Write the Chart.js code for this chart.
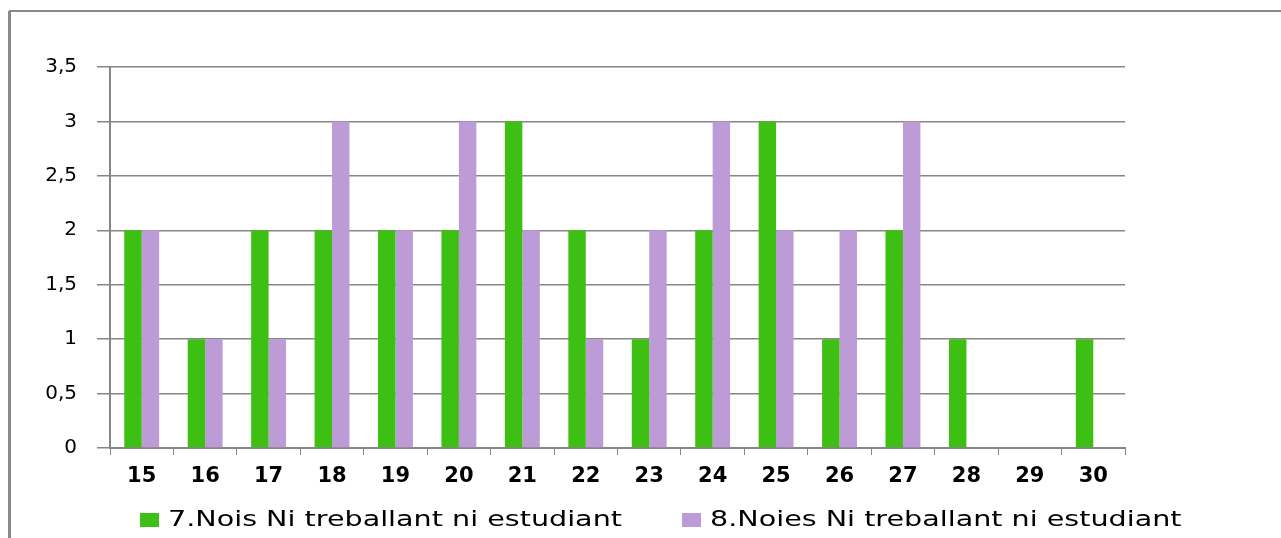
<!DOCTYPE html>
<html>
<head>
<meta charset="utf-8">
<script src="https://cdn.jsdelivr.net/npm/chart.js@4"></script>
<style>
  html, body { margin: 0; padding: 0; background: #fff; }
  #wrap { width: 1281px; height: 538px; position: relative; }
</style>
</head>
<body>
<div id="wrap"><canvas id="edatChart"></canvas></div>
<script>
// categories (edat) and series
const ages = ['15', '16', '17', '18', '19', '20', '21', '22', '23', '24', '25', '26', '27', '28', '29', '30'];
const nois = [2, 1, 2, 2, 2, 2, 3, 2, 1, 2, 3, 1, 2, 1, 0, 1];
const noies = [2, 1, 1, 3, 2, 3, 2, 1, 2, 3, 2, 2, 3, 0, 0, 0];
const seriesNames = ['7.Nois Ni treballant ni estudiant', '8.Noies Ni treballant ni estudiant'];
const yTicks = [0, 0.5, 1, 1.5, 2, 2.5, 3, 3.5];

const gray = '#868686';

// frame around the chart + legend drawn at the bottom
const framePlugin = {
  id: 'frame',
  beforeDraw(chart) {
    const c = chart.ctx;
    c.save();
    c.fillStyle = '#fff';
    c.fillRect(0, 0, chart.width, chart.height);
    c.strokeStyle = '#8a8a8a';
    c.lineWidth = 3;
    c.beginPath();
    c.moveTo(9.5, chart.height);
    c.lineTo(9.5, 11);
    c.stroke();
    c.lineWidth = 2;
    c.beginPath();
    c.moveTo(9, 11);
    c.lineTo(chart.width, 11);
    c.stroke();
    c.restore();
  },
  afterDraw(chart) {
    const c = chart.ctx;
    const spots = [140, 682];
    chart.data.datasets.forEach((ds, i) => {
      c.save();
      c.fillStyle = ds.backgroundColor;
      c.fillRect(spots[i], 513, 19, 14);
      // text in the reference is drawn wider than normal
      c.translate(spots[i] + 28, 520);
      c.scale(1.3, 1);
      c.font = '22px "DejaVu Sans"';
      c.textBaseline = 'middle';
      c.fillStyle = '#000';
      c.fillText(ds.label, 0, 0);
      c.restore();
    });
  }
};

const ctx = document.getElementById('edatChart').getContext('2d');
const chart = new Chart(ctx, {
  type: 'bar',
  data: {
    labels: ages,
    datasets: [
      { label: seriesNames[0], data: nois, backgroundColor: '#3EBF13' },
      { label: seriesNames[1], data: noies, backgroundColor: '#BD9BD6' }
    ]
  },
  options: {
    responsive: true,
    maintainAspectRatio: false,
    animation: false,
    layout: { padding: { left: 0, right: 156, top: 67, bottom: 40 } },
    datasets: { bar: { categoryPercentage: 0.55, barPercentage: 1 } },
    plugins: {
      legend: { display: false },
      tooltip: { enabled: false }
    },
    scales: {
      x: {
        grid: { offset: true, drawOnChartArea: false, drawTicks: true, tickLength: 7, color: gray, lineWidth: 1 },
        border: { color: gray, width: 2 },
        ticks: { color: '#000', padding: 9, font: { family: 'DejaVu Sans', size: 21, weight: 'bold' } },
        afterFit(scale) { scale.height = 50; }
      },
      y: {
        min: 0,
        max: 3.5,
        afterBuildTicks(scale) { scale.ticks = yTicks.map(v => ({ value: v })); },
        grid: { color: gray, lineWidth: 1.5, tickLength: 13 },
        border: { color: gray, width: 2 },
        ticks: {
          color: '#000',
          padding: 20,
          font: { family: 'DejaVu Sans', size: 20 },
          callback: v => String(v).replace('.', ',')
        },
        afterFit(scale) { scale.width = 110; }
      }
    }
  },
  plugins: [framePlugin]
});
</script>
</body>
</html>
